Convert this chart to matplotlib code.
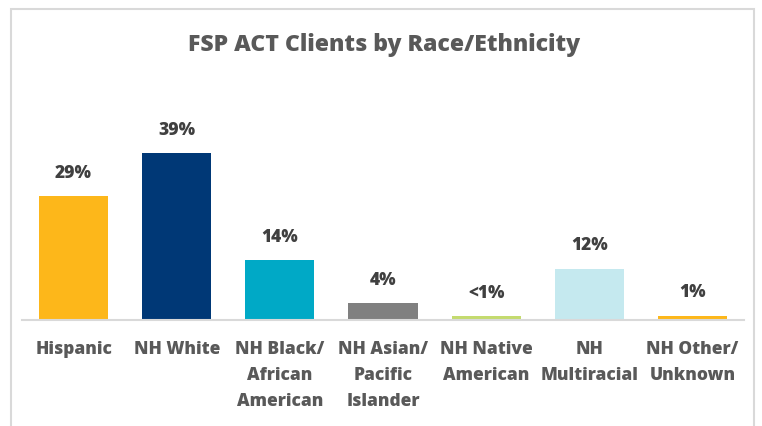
import matplotlib.pyplot as plt
from matplotlib.patches import Rectangle

# Data
categories = ['Hispanic', 'NH White', 'NH Black/\nAfrican\nAmerican', 'NH Asian/\nPacific\nIslander',
              'NH Native\nAmerican', 'NH\nMultiracial', 'NH Other/\nUnknown']
values = [29, 39, 14, 4, 0.9, 12, 1]
value_labels = ['29%', '39%', '14%', '4%', '<1%', '12%', '1%']
colors = ['#FDB71A', '#003876', '#00A9C6', '#808080', '#C4DB6E', '#C5E9EF', '#FDB71A']

W, H = 762, 426
fig = plt.figure(figsize=(W / 100, H / 100), dpi=100)
plt.rcParams['font.family'] = ['Open Sans', 'DejaVu Sans']
wt = 800

# outer chart border
fig.patches.append(Rectangle((11 / W, -0.05), (754 - 11) / W, (H - 9) / H + 0.05,
                             transform=fig.transFigure, fill=False,
                             edgecolor='#D9D9D9', linewidth=1.5))

# axes placed in pixel terms
left, right, base = 22, 744, 320
ymax = 45
px_per = 4.27
top = base - ymax * px_per
ax = fig.add_axes([left / W, (H - base) / H, (right - left) / W, (base - top) / H])

x = range(len(categories))
ax.bar(x, values, width=0.67, color=colors)
ax.set_xlim(-0.5, len(categories) - 0.5)
ax.set_ylim(0, ymax)

for i, (v, lab) in enumerate(zip(values, value_labels)):
    ax.annotate(lab, (i, v), xytext=(0, 16.5), textcoords='offset points',
                ha='center', va='center', fontsize=12.5, fontweight=wt, color='#404040')

ax.set_xticks(list(x))
ax.set_xticklabels(categories, fontsize=12.5, fontweight=wt, color='#595959', linespacing=1.68)
ax.tick_params(axis='x', length=0, pad=15)
ax.set_yticks([])
for s in ['top', 'right', 'left']:
    ax.spines[s].set_visible(False)
ax.spines['bottom'].set_color('#D9D9D9')
ax.spines['bottom'].set_linewidth(1.5)

fig.text(384 / W, (H - 45) / H, 'FSP ACT Clients by Race/Ethnicity', ha='center', va='center',
         fontsize=16.6, fontweight=wt, color='#595959')

fig.savefig('out.png', dpi=100)
